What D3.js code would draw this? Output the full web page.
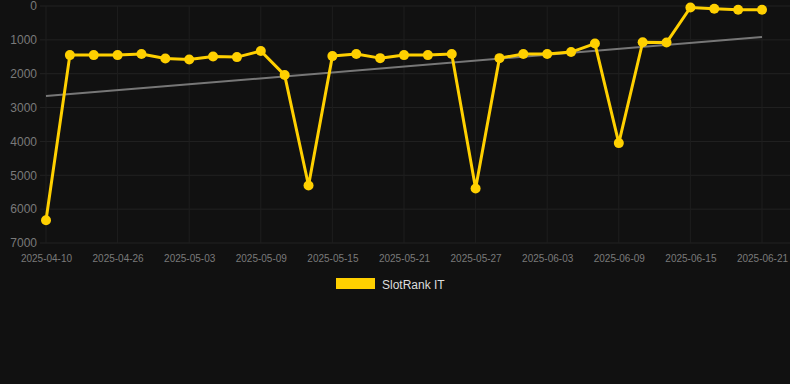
<!DOCTYPE html>
<html><head><meta charset="utf-8">
<script src="https://cdn.jsdelivr.net/npm/d3@7"></script>
<style>html,body{margin:0;padding:0;background:#111111;}svg{display:block;}</style>
</head><body>
<svg id="c" width="790" height="384"></svg>
<script>
const dates = ["2025-04-10","2025-04-20","2025-04-23","2025-04-26","2025-04-28","2025-05-01","2025-05-03","2025-05-05","2025-05-07","2025-05-09","2025-05-11","2025-05-13","2025-05-15","2025-05-17","2025-05-19","2025-05-21","2025-05-23","2025-05-25","2025-05-27","2025-05-29","2025-06-01","2025-06-03","2025-06-05","2025-06-07","2025-06-09","2025-06-11","2025-06-13","2025-06-15","2025-06-17","2025-06-19","2025-06-21"];
const ranks = [6330,1450,1450,1450,1420,1550,1580,1490,1510,1330,2040,5300,1480,1420,1540,1450,1450,1420,5390,1540,1420,1420,1360,1110,4050,1070,1080,45,80,110,110];
const trend = [2660,917];
const yTicks = [0,1000,2000,3000,4000,5000,6000,7000];
const seriesName = "SlotRank IT";

(function(){
const svg = d3.select("#c");
const mLeft = 46, mRight = 762, mTop = 6, mBottom = 243;
const x = d3.scalePoint().domain(dates).range([mLeft, mRight]);
const y = d3.scaleLinear().domain([0,7000]).range([mTop, mBottom]);
const labelDates = dates.filter((d,i)=>i%3===0);
const font = "Liberation Sans, Arial, sans-serif";

const g = svg.append("g");
g.selectAll("line.h").data(yTicks).enter().append("line")
  .attr("x1",40).attr("x2",790).attr("y1",d=>y(d)).attr("y2",d=>y(d))
  .attr("stroke","#222").attr("stroke-width",1);
g.selectAll("line.v").data(labelDates).enter().append("line")
  .attr("x1",d=>x(d)).attr("x2",d=>x(d)).attr("y1",mTop).attr("y2",mBottom)
  .attr("stroke","#1e1e1e").attr("stroke-width",1);

const ya = svg.append("g").attr("transform","translate(40,0)")
  .call(d3.axisLeft(y).tickValues(yTicks).tickSize(0).tickPadding(3).tickFormat(d3.format("d")));
ya.select(".domain").remove();
ya.selectAll("text").attr("fill","#7a7a7a").style("font-family",font).style("font-size","12px");

const xa = svg.append("g").attr("transform",`translate(0,${mBottom})`)
  .call(d3.axisBottom(x).tickValues(labelDates).tickSize(0).tickPadding(12));
xa.select(".domain").remove();
xa.selectAll("text").attr("fill","#7a7a7a").style("font-family",font).style("font-size","10px");

svg.append("line")
  .attr("x1",x(dates[0])).attr("x2",x(dates[dates.length-1]))
  .attr("y1",y(trend[0])).attr("y2",y(trend[1]))
  .attr("stroke","#777").attr("stroke-width",2);

const data = dates.map((d,i)=>({d, v:ranks[i]}));
svg.append("path").datum(data)
  .attr("d", d3.line().x(p=>x(p.d)).y(p=>y(p.v)))
  .attr("fill","none").attr("stroke","#FFD000").attr("stroke-width",3).attr("stroke-linejoin","round");
svg.selectAll("circle").data(data).enter().append("circle")
  .attr("cx",p=>x(p.d)).attr("cy",p=>y(p.v)).attr("r",5).attr("fill","#FFD000");

svg.append("rect").attr("x",336).attr("y",278).attr("width",39).attr("height",11).attr("fill","#FFD000");
svg.append("text").attr("x",382).attr("y",289).text(seriesName)
  .attr("fill","#ddd").style("font-family",font).style("font-size","12px");
})();
</script>
</body></html>
